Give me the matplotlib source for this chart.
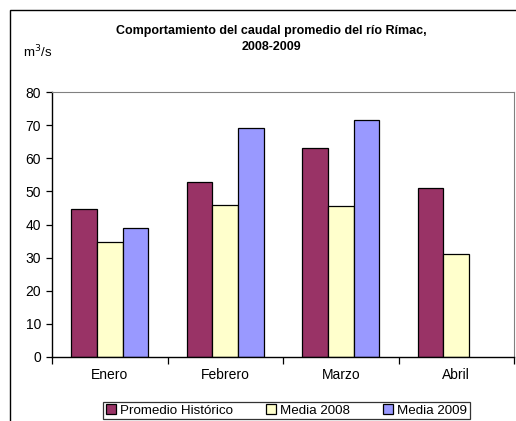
import numpy as np
import matplotlib
matplotlib.use('Agg')
from matplotlib import pyplot as plt
from matplotlib.patches import Rectangle

# data
meses = ['Enero', 'Febrero', 'Marzo', 'Abril']
promedio_historico = [44.6, 52.8, 63.2, 51.1]
media_2008 = [34.7, 45.9, 45.7, 31.1]
media_2009 = [39.0, 69.0, 71.4, np.nan]

series = ['Promedio Histórico', 'Media 2008', 'Media 2009']
colores = ['#993366', '#FFFFCC', '#9999FF']

plt.rcParams['font.family'] = ['Liberation Sans', 'DejaVu Sans']

W, H = 516, 421
fig = plt.figure(figsize=(W / 100, H / 100), dpi=100)

# outer chart frame (cropped on right and bottom)
fig.add_artist(Rectangle((10 / W, -0.1), 1.2, 1 - 10 / H + 0.1, transform=fig.transFigure,
                         fill=False, edgecolor='black', linewidth=1.0))

ax = fig.add_axes([52 / W, 1 - 357 / H, 462 / W, 265 / H])

x = np.arange(len(meses))
bw = 1 / 4.5
for i, (vals, col, lab) in enumerate(zip([promedio_historico, media_2008, media_2009], colores, series)):
    ax.bar(x + (i - 1) * bw, vals, width=bw, color=col, edgecolor='black', linewidth=0.9, label=lab)

ax.set_xlim(-0.5, 3.5)
ax.set_ylim(0, 80)
ax.set_yticks(range(0, 81, 10))
ax.set_xticks(np.arange(-0.5, 4, 1))
ax.set_xticklabels([])
ax.tick_params(axis='x', length=5, direction='out', width=0.9)
ax.tick_params(axis='y', length=4, direction='out', width=0.9, labelsize=10, pad=4)
for i, m in enumerate(meses):
    ax.text(x[i], -5.5, m, ha='center', va='center', fontsize=10)

ax.spines['top'].set_color('#808080')
ax.spines['right'].set_color('#808080')
ax.spines['top'].set_linewidth(0.8)
ax.spines['right'].set_linewidth(0.8)
ax.spines['left'].set_linewidth(1.0)
ax.spines['bottom'].set_linewidth(1.0)

fig.text(271 / W, 1 - 39 / H, 'Comportamiento del caudal promedio del río Rímac,\n2008-2009',
         ha='center', va='center', fontsize=9, fontweight='bold', linespacing=1.35)
fig.text(23 / W, 1 - 52 / H, 'm$^3$/s', ha='left', va='center', fontsize=9.5)

leg = fig.legend(loc='center', bbox_to_anchor=(286.5 / W, 1 - 410.5 / H), ncol=3,
                 frameon=True, fancybox=False, edgecolor='black',
                 handlelength=0.75, handleheight=0.75, handletextpad=0.3,
                 columnspacing=2.5, borderpad=0.2, prop={'size': 9.6})
leg.get_frame().set_linewidth(0.9)

plt.savefig('out.png', dpi=100)
